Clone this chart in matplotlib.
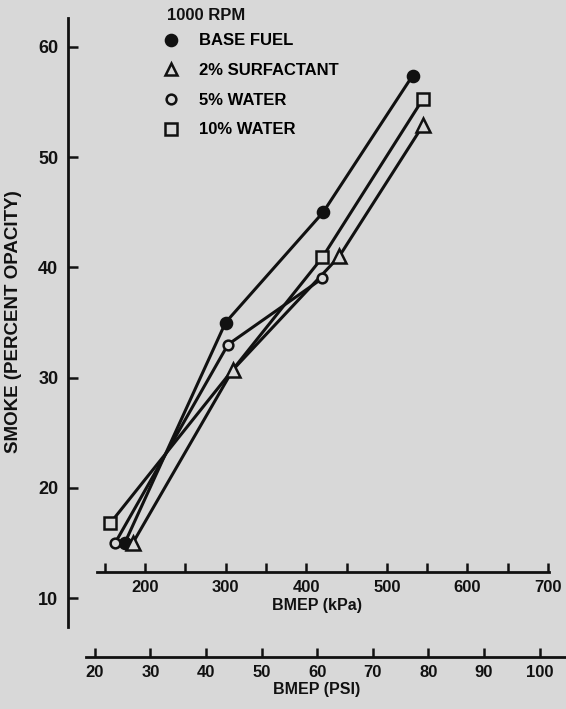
import matplotlib.pyplot as plt
from matplotlib.lines import Line2D
from matplotlib.ticker import MultipleLocator

# BMEP (kPa) and smoke (percent opacity), 1000 RPM
kpa_base = [175, 300, 421, 532]
smoke_base = [15.0, 35.0, 45.0, 57.4]

kpa_surf = [185, 309, 441, 545]
smoke_surf = [15.0, 30.7, 41.0, 52.9]

kpa_w5 = [163, 303, 420]
smoke_w5 = [15.0, 33.0, 39.0]

kpa_w10 = [157, 420, 545]
smoke_w10 = [16.8, 40.9, 55.3]

labels = ["BASE FUEL", "2% SURFACTANT", "5% WATER", "10% WATER"]
kpa_ticks = [200, 300, 400, 500, 600, 700]
psi_ticks = [20, 30, 40, 50, 60, 70, 80, 90, 100]
smoke_ticks = [10, 20, 30, 40, 50, 60]

bg = "#d8d8d8"
ink = "#111111"
plt.rcParams["font.family"] = ["Liberation Sans", "DejaVu Sans"]
plt.rcParams["font.weight"] = "bold"

W, H = 566, 709
fig = plt.figure(figsize=(W / 100, H / 100), dpi=100, facecolor=bg)
ax = fig.add_axes([68 / W, 82 / H, (W - 68) / W, (627 - 18) / H])
ax.patch.set_visible(False)

ax.set_xlim(104.5, 722.3)
ax.set_ylim(7.37, 62.63)

# series: lines first, markers on top
series = [
    (kpa_base, smoke_base, "o", 8, ink),
    (kpa_surf, smoke_surf, "^", 10, bg),
    (kpa_w5, smoke_w5, "o", 7, bg),
    (kpa_w10, smoke_w10, "s", 8.5, bg),
]
for x, y, m, ms, fc in series:
    ax.plot(x, y, color=ink, lw=2.2, zorder=2, solid_capstyle="round")
    ax.plot(x, y, ls="none", marker=m, ms=ms, mfc=fc, mec=ink, mew=1.8, zorder=3)

# axes styling
for s in ["top", "right"]:
    ax.spines[s].set_visible(False)
ax.spines["left"].set_linewidth(2)
ax.spines["left"].set_color(ink)
ax.spines["bottom"].set_position(("data", 12.36))
ax.spines["bottom"].set_bounds(141, 701)
ax.spines["bottom"].set_linewidth(2)
ax.spines["bottom"].set_color(ink)

ax.set_yticks(smoke_ticks)
ax.set_xticks(kpa_ticks)
ax.xaxis.set_minor_locator(MultipleLocator(50))
ax.tick_params(axis="y", direction="in", length=7, width=1.8, pad=7,
               labelsize=13, colors=ink)
ax.tick_params(axis="x", which="both", direction="in", length=6.5, width=1.8,
               pad=6, labelsize=12, colors=ink)
ax.set_xlabel("BMEP (kPa)", fontsize=11.5, fontweight="bold", labelpad=2, color=ink)
ax.set_ylabel("SMOKE (PERCENT OPACITY)", fontsize=13.5, fontweight="bold", color=ink)
ax.yaxis.set_label_coords(-(68 - 22) / (W - 68), (627 - 322) / (627 - 18))

# PSI scale below
k2p = lambda k: k / 6.894757
p2k = lambda p: p * 6.894757
sec = ax.secondary_xaxis(-(657 - 627) / (627 - 18), functions=(k2p, p2k))
sec.set_xticks(psi_ticks)
sec.spines["bottom"].set_linewidth(2)
sec.spines["bottom"].set_color(ink)
sec.spines["bottom"].set_bounds(18.4, 106)
sec.tick_params(axis="x", direction="in", length=6.5, width=1.8, pad=6,
                labelsize=12, colors=ink)
sec.set_xlabel("BMEP (PSI)", fontsize=11.5, fontweight="bold", labelpad=1, color=ink)

# legend
handles = [
    Line2D([], [], ls="none", marker="o", ms=8, mfc=ink, mec=ink, mew=1.8),
    Line2D([], [], ls="none", marker="^", ms=9, mfc=bg, mec=ink, mew=1.8),
    Line2D([], [], ls="none", marker="o", ms=7, mfc=bg, mec=ink, mew=1.8),
    Line2D([], [], ls="none", marker="s", ms=8.5, mfc=bg, mec=ink, mew=1.8),
]
fig.legend(handles, labels, loc="upper left", bbox_to_anchor=(154 / W, 1 - 25 / H),
           frameon=False, borderpad=0, handlelength=1.0, handletextpad=1.2,
           labelspacing=0.88, prop={"size": 12, "weight": "bold"})
fig.text(167 / W, 1 - 15 / H, "1000 RPM", fontsize=12, fontweight="bold",
         va="center", color=ink)

fig.savefig("out.png", dpi=100, facecolor=bg)
